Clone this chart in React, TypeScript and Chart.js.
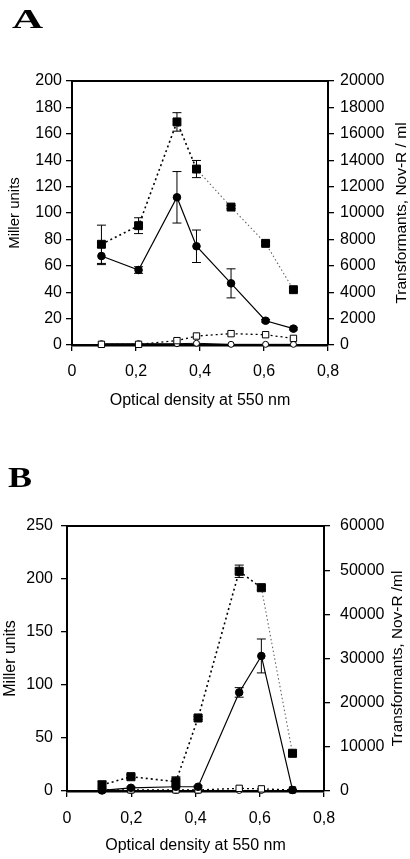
import React, { useEffect, useRef } from 'react';
import { Chart, registerables } from 'chart.js';

Chart.register(...registerables);

// ---------- Panel A data ----------
const odA = [0.092, 0.208, 0.328, 0.389, 0.497, 0.605, 0.692];
const transformantsA = [7630, 9040, 16900, 13330, 10450, 7700, 4190];
const transformantsErrA = [1450, 600, 700, 650, 120, 120, 120];
const transformantsCtrlA = [50, 50, 330, 680, 860, 780, 500];
const millerA = [67.4, 56.8, 111.9, 74.8, 46.7, 18.4, 12.4];
const millerErrA = [6.5, 2.5, 19.5, 12.3, 11, 1, 1];
const millerCtrlA = [1, 1, 1, 1.3, 0.5, 0.5, 0.5];

// ---------- Panel B data ----------
const odB = [0.109, 0.199, 0.339, 0.408, 0.536, 0.605, 0.702];
const transformantsB = [1370, 3240, 2110, 16530, 49750, 46030, 8540];
const transformantsErrB = [900, 400, 1100, 300, 1400, 500, 300];
const transformantsCtrlB = [240, 240, 240, 240, 600, 480, 240];
const millerB = [0.5, 3, 4, 4, 93, 127.4, 1];
const millerErrB = [0.5, 1, 1, 1, 4.5, 16, 0.5];
const millerCtrlB = [0.5, 0.5, 0.5, 0.5, 0.5, 0.5, 0.5];

// ---------- Axes ----------
const xTicks = [0, 0.2, 0.4, 0.6, 0.8];
const xTickLabels = ['0', '0,2', '0,4', '0,6', '0,8'];
const xTitle = 'Optical density at 550 nm';
const leftTitle = 'Miller units';
const rightTitleA = 'Transformants, Nov-R / ml';
const rightTitleB = 'Transformants, Nov-R /ml';

const FONT = "'Liberation Sans', Arial, sans-serif";

const zip = (xs: number[], ys: number[]) => xs.map((x, i) => ({ x, y: ys[i] }));

const panelPlugin = {
  id: 'panel',
  beforeDatasetsDraw(chart: any) {
    const ctx = chart.ctx;
    chart.data.datasets.forEach((ds: any, di: number) => {
      const errs: number[] | undefined = ds.errorBars;
      if (!errs) return;
      const ys = chart.scales[ds.yAxisID];
      const meta = chart.getDatasetMeta(di);
      ctx.save();
      ctx.strokeStyle = '#000';
      ctx.lineWidth = 1;
      meta.data.forEach((pt: any, i: number) => {
        const v = ds.data[i].y;
        const e = errs[i];
        const top = ys.getPixelForValue(v + e);
        const bot = ys.getPixelForValue(Math.max(0, v - e));
        const x = pt.x;
        const cw = 4.5;
        ctx.beginPath();
        ctx.moveTo(x, top);
        ctx.lineTo(x, bot);
        ctx.moveTo(x - cw, top);
        ctx.lineTo(x + cw, top);
        ctx.moveTo(x - cw, bot);
        ctx.lineTo(x + cw, bot);
        ctx.stroke();
      });
      ctx.restore();
    });
  },
  afterDraw(chart: any, _args: any, opts: any) {
    const { ctx, chartArea: a } = chart;
    ctx.save();
    ctx.strokeStyle = '#000';
    ctx.lineWidth = 2;
    ctx.beginPath();
    ctx.moveTo(a.left - 1, a.top);
    ctx.lineTo(a.right + 1, a.top);
    ctx.stroke();
    ctx.fillStyle = '#000';
    ctx.font = `${opts.rightTitleSize}px ${FONT}`;
    ctx.translate(opts.rightTitleX, (a.top + a.bottom) / 2);
    ctx.rotate(-Math.PI / 2);
    ctx.textAlign = 'center';
    ctx.textBaseline = 'middle';
    ctx.fillText(opts.rightTitle, 0, 0);
    ctx.restore();
  },
};

interface PanelSpec {
  width: number;
  height: number;
  od: number[];
  transformants: number[];
  transformantsErr: number[];
  transformantsCtrl: number[];
  miller: number[];
  millerErr: number[];
  millerCtrl: number[];
  leftMax: number;
  leftStep: number;
  rightMax: number;
  rightStep: number;
  pad: { left: number; right: number; top: number; bottom: number };
  leftWidth: number;
  rightWidth: number;
  xHeight: number;
  xTickPad: number;
  leftTitleSize: number;
  leftTitlePad: number;
  leftTickPad: number;
  rightTickPad: number;
  rightTitle: string;
  rightTitleX: number;
  rightTitleSize: number;
  boldSegUntil: number;
  squareR: number;
  circleR: number;
}

function buildConfig(s: PanelSpec): any {
  const boldDots = (ctx: any) => (ctx.p0DataIndex < s.boldSegUntil ? '#000' : '#666');
  const dashFn = (ctx: any) => (ctx.p0DataIndex < s.boldSegUntil ? [2, 3] : [1.5, 2.5]);
  const widthFn = (ctx: any) => (ctx.p0DataIndex < s.boldSegUntil ? 1.6 : 1.1);
  return {
    type: 'line',
    data: {
      datasets: [
        {
          label: 'miller',
          data: zip(s.od, s.miller),
          yAxisID: 'yL',
          borderColor: '#000',
          backgroundColor: '#000',
          borderWidth: 1.2,
          pointStyle: 'circle',
          pointRadius: s.circleR,
          pointBorderWidth: 1,
          errorBars: s.millerErr,
          clip: false,
        },
        {
          label: 'transformants',
          data: zip(s.od, s.transformants),
          yAxisID: 'yR',
          borderColor: '#000',
          backgroundColor: '#000',
          borderWidth: 1.6,
          borderDash: [2, 3],
          segment: { borderColor: boldDots, borderDash: dashFn, borderWidth: widthFn },
          pointStyle: 'rect',
          pointRadius: s.squareR,
          pointBorderWidth: 1,
          errorBars: s.transformantsErr,
          clip: false,
        },
        {
          label: 'transformants control',
          data: zip(s.od, s.transformantsCtrl),
          yAxisID: 'yR',
          borderColor: '#000',
          backgroundColor: '#fff',
          pointBackgroundColor: '#fff',
          borderWidth: 1.3,
          borderDash: [2, 3],
          pointStyle: 'rect',
          pointRadius: 4.5,
          pointBorderWidth: 1,
          clip: false,
        },
        {
          label: 'miller control',
          data: zip(s.od, s.millerCtrl),
          yAxisID: 'yL',
          borderColor: '#000',
          backgroundColor: '#fff',
          pointBackgroundColor: '#fff',
          borderWidth: 1,
          pointStyle: 'circle',
          pointRadius: 3,
          pointBorderWidth: 1,
          clip: false,
        },
      ],
    },
    options: {
      responsive: false,
      animation: false,
      devicePixelRatio: 1,
      layout: { padding: s.pad },
      plugins: {
        legend: { display: false },
        tooltip: { enabled: false },
        panel: { rightTitle: s.rightTitle, rightTitleX: s.rightTitleX, rightTitleSize: s.rightTitleSize },
      },
      scales: {
        x: {
          type: 'linear',
          min: 0,
          max: 0.8,
          afterBuildTicks: (scale: any) => {
            scale.ticks = xTicks.map((v) => ({ value: v }));
          },
          afterFit: (scale: any) => {
            scale.height = s.xHeight;
          },
          ticks: {
            autoSkip: false,
            maxRotation: 0,
            color: '#000',
            padding: s.xTickPad,
            font: { family: FONT, size: 16 },
            callback: (_v: any, i: number) => xTickLabels[i],
          },
          grid: { drawOnChartArea: false, drawTicks: true, tickLength: 6, color: '#000', lineWidth: 1.3 },
          border: { display: true, color: '#000', width: 2.5 },
          title: {
            display: true,
            text: xTitle,
            color: '#000',
            font: { family: FONT, size: 16 },
            padding: { top: 4, bottom: 4 },
          },
        },
        yL: {
          type: 'linear',
          position: 'left',
          min: 0,
          max: s.leftMax,
          ticks: {
            stepSize: s.leftStep,
            autoSkip: false,
            color: '#000',
            padding: s.leftTickPad,
            font: { family: FONT, size: 16 },
            callback: (v: any) => String(v),
          },
          afterFit: (scale: any) => {
            scale.width = s.leftWidth;
          },
          grid: { drawOnChartArea: false, drawTicks: true, tickLength: 6, color: '#000', lineWidth: 1.3 },
          border: { display: true, color: '#000', width: 2 },
          title: {
            display: true,
            text: leftTitle,
            color: '#000',
            font: { family: FONT, size: s.leftTitleSize },
            padding: { top: s.leftTitlePad, bottom: 4 },
          },
        },
        yR: {
          type: 'linear',
          position: 'right',
          min: 0,
          max: s.rightMax,
          ticks: {
            stepSize: s.rightStep,
            autoSkip: false,
            color: '#000',
            padding: s.rightTickPad,
            font: { family: FONT, size: 16 },
            callback: (v: any) => String(v),
          },
          afterFit: (scale: any) => {
            scale.width = s.rightWidth;
          },
          grid: { drawOnChartArea: false, drawTicks: true, tickLength: 6, color: '#000', lineWidth: 1.3 },
          border: { display: true, color: '#000', width: 2 },
        },
      },
    },
    plugins: [panelPlugin],
  };
}

function Panel({ spec }: { spec: PanelSpec }) {
  const ref = useRef<HTMLCanvasElement | null>(null);
  useEffect(() => {
    if (!ref.current) return;
    const chart = new Chart(ref.current, buildConfig(spec));
    return () => chart.destroy();
  }, [spec]);
  return (
    <canvas
      ref={ref}
      width={spec.width}
      height={spec.height}
      style={{ display: 'block', width: spec.width, height: spec.height }}
    />
  );
}

const specA: PanelSpec = {
  width: 410,
  height: 420,
  od: odA,
  transformants: transformantsA,
  transformantsErr: transformantsErrA,
  transformantsCtrl: transformantsCtrlA,
  miller: millerA,
  millerErr: millerErrA,
  millerCtrl: millerCtrlA,
  leftMax: 200,
  leftStep: 20,
  rightMax: 20000,
  rightStep: 2000,
  pad: { left: 2, right: 0, top: 81, bottom: 6 },
  leftWidth: 70,
  rightWidth: 82,
  xHeight: 69,
  xTickPad: 11,
  leftTitleSize: 15,
  leftTitlePad: 4,
  leftTickPad: 4,
  rightTickPad: 6,
  rightTitle: rightTitleA,
  rightTitleX: 402,
  rightTitleSize: 15.5,
  boldSegUntil: 3,
  squareR: 5.6,
  circleR: 3.8,
};

const specB: PanelSpec = {
  width: 410,
  height: 429,
  od: odB,
  transformants: transformantsB,
  transformantsErr: transformantsErrB,
  transformantsCtrl: transformantsCtrlB,
  miller: millerB,
  millerErr: millerErrB,
  millerCtrl: millerCtrlB,
  leftMax: 250,
  leftStep: 50,
  rightMax: 60000,
  rightStep: 10000,
  pad: { left: 1, right: 0, top: 96, bottom: 0 },
  leftWidth: 66,
  rightWidth: 86,
  xHeight: 68,
  xTickPad: 12,
  leftTitleSize: 16,
  leftTitlePad: 0,
  leftTickPad: 8,
  rightTickPad: 10,
  rightTitle: rightTitleB,
  rightTitleX: 398,
  rightTitleSize: 15.4,
  boldSegUntil: 5,
  squareR: 5.7,
  circleR: 3.8,
};

const letterStyle: React.CSSProperties = {
  position: 'absolute',
  fontFamily: "'Liberation Serif', 'Times New Roman', serif",
  fontWeight: 'bold',
  transformOrigin: 'left top',
  color: '#000',
  margin: 0,
};

export default function App() {
  return (
    <div style={{ position: 'absolute', left: 0, top: 0, width: 410, height: 859, background: '#fff' }}>
      <div style={{ position: 'absolute', left: 0, top: 0 }}>
        <Panel spec={specA} />
      </div>
      <div style={{ position: 'absolute', left: 0, top: 430 }}>
        <Panel spec={specB} />
      </div>
      <div style={{ ...letterStyle, left: 12, top: 6, fontSize: 27, lineHeight: '27px', transform: 'scaleX(1.6)' }}>A</div>
      <div style={{ ...letterStyle, left: 8, top: 462, fontSize: 30, lineHeight: '30px', transform: 'scaleX(1.2)' }}>B</div>
    </div>
  );
}
